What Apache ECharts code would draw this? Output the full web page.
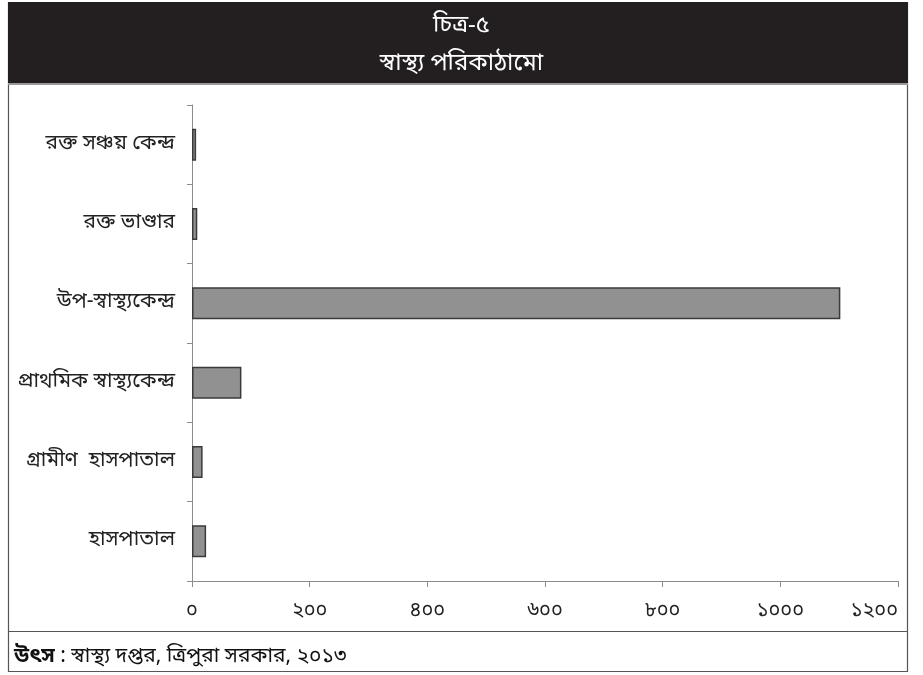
<!DOCTYPE html>
<html>
<head>
<meta charset="utf-8">
<script src="https://cdn.jsdelivr.net/npm/echarts@6/dist/echarts.min.js"></script>
<style>
  html, body { margin: 0; padding: 0; background: #ffffff; }
  #chart { width: 923px; height: 675px; }
</style>
</head>
<body>
<div id="chart"></div>
<script>
// Health infrastructure of Tripura (counts by facility type)
const categories = [
  'রক্ত সঞ্চয় কেন্দ্র',
  'রক্ত ভাণ্ডার',
  'উপ-স্বাস্থ্যকেন্দ্র',
  'প্রাথমিক স্বাস্থ্যকেন্দ্র',
  'গ্রামীণ  হাসপাতাল',
  'হাসপাতাল'
];
const values = [7, 9, 1102, 84, 18, 24];

const titleLines = ['চিত্র-৫', 'স্বাস্থ্য পরিকাঠামো'];
const sourceLabel = 'উৎস';
const sourceText = ' : স্বাস্থ্য দপ্তর, ত্রিপুরা সরকার, ২০১৩';
const bnDigits = ['০', '১', '২', '৩', '৪', '৫', '৬', '৭', '৮', '৯'];
const toBengali = v => String(v).replace(/[0-9]/g, d => bnDigits[+d]);

const FONT = "'Noto Sans Bengali', 'Noto Serif Bengali', 'Lohit Bengali', 'Noto Sans', sans-serif";

const chart = echarts.init(document.getElementById('chart'), null, { renderer: 'canvas' });

// categories are listed top-to-bottom; the category axis runs bottom-up
const catsAxis = categories.slice().reverse();
const valsAxis = values.slice().reverse();

chart.setOption({
  backgroundColor: '#ffffff',
  animation: false,
  textStyle: { fontFamily: FONT },
  grid: { left: 192, right: 25, top: 105, bottom: 94, containLabel: false },
  xAxis: {
    type: 'value',
    min: 0,
    max: 1200,
    interval: 200,
    axisLine: { show: true, lineStyle: { color: '#8c8c8c', width: 1 } },
    axisTick: { show: true, length: 6, lineStyle: { color: '#8c8c8c' } },
    splitLine: { show: false },
    axisLabel: {
      margin: 21,
      color: '#222',
      fontSize: 20,
      fontFamily: FONT,
      alignMaxLabel: 'right',
      formatter: v => toBengali(v)
    }
  },
  yAxis: {
    type: 'category',
    data: catsAxis,
    axisLine: { show: true, lineStyle: { color: '#8c8c8c', width: 1 } },
    axisTick: { show: true, length: 5, lineStyle: { color: '#8c8c8c' } },
    axisLabel: { margin: 17, color: '#222', fontSize: 21, fontFamily: FONT }
  },
  series: [{
    type: 'bar',
    data: valsAxis,
    barWidth: 32,
    itemStyle: { color: '#919191', borderColor: '#3a3a3a', borderWidth: 1.5 }
  }],
  graphic: [
    // outer frame
    { type: 'rect', z: 0, shape: { x: 8.5, y: 2.5, width: 899, height: 669 },
      style: { fill: 'none', stroke: '#555', lineWidth: 1.2 } },
    // title band
    { type: 'rect', z: 1, shape: { x: 8, y: 2, width: 900, height: 81 },
      style: { fill: '#231f20' } },
    { type: 'rect', z: 1, shape: { x: 8, y: 83, width: 900, height: 2 },
      style: { fill: '#9a9a9a' } },
    { type: 'text', z: 2, left: 'center', top: 15,
      style: { text: titleLines[0], fill: '#ffffff', font: '24px ' + FONT } },
    { type: 'text', z: 2, left: 'center', top: 53,
      style: { text: titleLines[1], fill: '#ffffff', font: '24px ' + FONT } },
    // source footer
    { type: 'line', z: 1, shape: { x1: 8, y1: 631.5, x2: 908, y2: 631.5 },
      style: { stroke: '#555', lineWidth: 1 } },
    { type: 'text', z: 2, left: 14, top: 647,
      style: {
        text: '{b|' + sourceLabel + '}{n|' + sourceText + '}',
        rich: {
          b: { fontFamily: FONT, fontSize: 21, fontWeight: 'bold', fill: '#111' },
          n: { fontFamily: FONT, fontSize: 21, fill: '#111' }
        }
      } }
  ]
});
</script>
</body>
</html>
